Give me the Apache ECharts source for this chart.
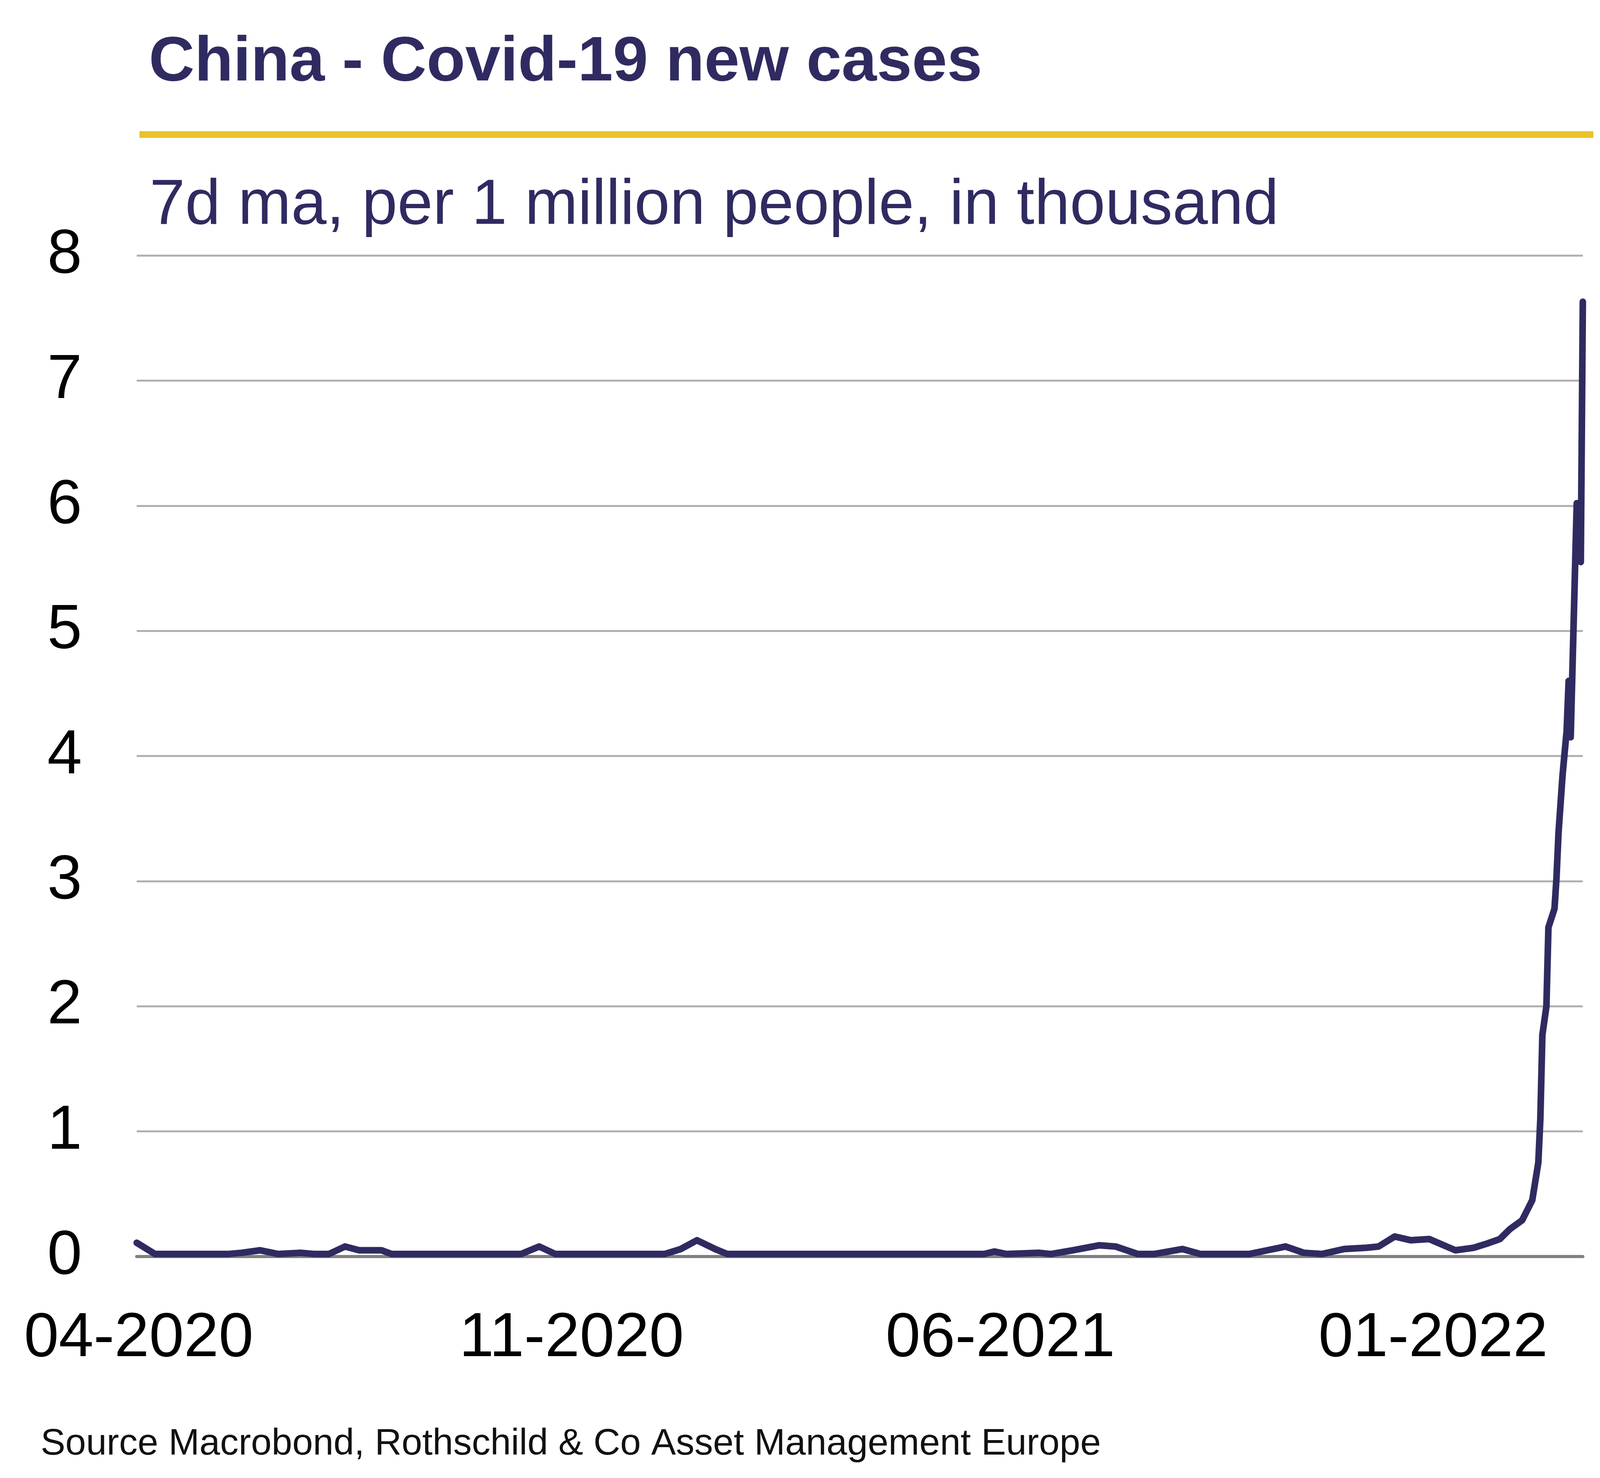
<!DOCTYPE html>
<html>
<head>
<meta charset="utf-8">
<title>China - Covid-19 new cases</title>
<script src="https://cdn.jsdelivr.net/npm/echarts@6/dist/echarts.min.js"></script>
<style>
  html, body { margin: 0; padding: 0; background: #fff; }
  #main { width: 4224px; height: 3784px; }
</style>
</head>
<body>
<div id="main"></div>
<script>
var chartDom = document.getElementById('main');
var myChart = echarts.init(chartDom);
var option;

// 7d moving average, per 1 million people, in thousand
var dates = ['2020-03-31','2020-04-04','2020-04-09','2020-05-15','2020-05-22','2020-05-31','2020-06-09','2020-06-20','2020-06-27','2020-07-04',
  '2020-07-12','2020-07-19','2020-07-30','2020-08-04','2020-10-07','2020-10-16','2020-10-24','2020-12-17','2020-12-25','2021-01-02',
  '2021-01-11','2021-01-17','2021-05-24','2021-05-29','2021-06-04','2021-06-20','2021-06-26','2021-07-07','2021-07-20','2021-07-28',
  '2021-08-08','2021-08-16','2021-08-30','2021-09-08','2021-09-17','2021-10-02','2021-10-11','2021-10-20','2021-10-29','2021-11-07',
  '2021-11-18','2021-11-29','2021-12-05','2021-12-13','2021-12-21','2021-12-30','2022-01-12','2022-01-21','2022-01-27','2022-02-03',
  '2022-02-08','2022-02-14','2022-02-19','2022-02-22','2022-02-23','2022-02-24','2022-02-26','2022-02-27','2022-03-02','2022-03-03',
  '2022-03-04','2022-03-06','2022-03-08','2022-03-09','2022-03-10','2022-03-13','2022-03-15','2022-03-16'];
var cases = [0.11,0.07,0.02,0.02,0.03,0.05,0.02,0.03,0.02,0.02,
  0.08,0.05,0.05,0.02,0.02,0.08,0.02,0.02,0.06,0.13,
  0.06,0.02,0.02,0.04,0.02,0.03,0.02,0.05,0.09,0.08,
  0.02,0.02,0.06,0.02,0.02,0.02,0.05,0.08,0.03,0.02,
  0.06,0.07,0.08,0.16,0.13,0.14,0.05,0.07,0.10,0.14,
  0.22,0.29,0.45,0.75,1.10,1.77,2.00,2.63,2.78,3.03,
  3.39,3.85,4.20,4.60,4.15,6.02,5.55,7.63];

// x labels
var labelDates = ['2020-04-01','2020-11-01','2021-06-01','2022-01-01'];
var yMin = 0, yMax = 8, yStep = 1;

var titleText = 'China - Covid-19 new cases';
var subtitleText = '7d ma, per 1 million people, in thousand';
var sourceText = 'Source Macrobond, Rothschild & Co Asset Management Europe';

// day offsets from the first date, so the x axis is a plain value axis
function dayOf(s) {
    var p = s.split('-');
    return Math.round((Date.UTC(+p[0], +p[1] - 1, +p[2]) - Date.UTC(2020, 2, 31)) / 86400000);
}
function labelOf(day) {
    var d = new Date(Date.UTC(2020, 2, 31) + day * 86400000);
    var m = d.getUTCMonth() + 1;
    return (m < 10 ? '0' + m : '' + m) + '-' + d.getUTCFullYear();
}

var navy = '#2f2b61';
var font = "'Liberation Sans', Arial, sans-serif";

option = {
    backgroundColor: '#ffffff',
    animation: false,
    grid: {
        left: 350,
        right: 172,
        top: 654,
        bottom: 567
    },
    graphic: [
        {
            type: 'text',
            left: 381,
            top: 80,
            style: {
                text: titleText,
                font: 'bold 162px ' + font,
                fill: navy
            }
        },
        {
            // yellow rule under the title
            type: 'rect',
            shape: { x: 357, y: 336, width: 3722, height: 17 },
            style: { fill: '#e9c22c' }
        },
        {
            type: 'text',
            left: 383,
            top: 447,
            style: {
                text: subtitleText,
                font: '163px ' + font,
                fill: navy
            }
        },
        {
            type: 'text',
            left: 104,
            top: 3650,
            style: {
                text: sourceText,
                font: '95px ' + font,
                fill: '#111111'
            }
        }
    ],
    xAxis: {
        type: 'value',
        min: dayOf(dates[0]),
        max: dayOf(dates[dates.length - 1]),
        axisLine: { show: true, onZero: false, lineStyle: { color: '#808080', width: 8 } },
        axisTick: { show: false },
        splitLine: { show: false },
        axisLabel: {
            customValues: labelDates.map(dayOf),
            margin: 131,
            fontSize: 160,
            fontFamily: font,
            color: '#000000',
            showMinLabel: true,
            showMaxLabel: true,
            formatter: function (v) { return labelOf(v); }
        }
    },
    yAxis: {
        type: 'value',
        min: yMin,
        max: yMax,
        interval: yStep,
        axisLine: { show: false },
        axisTick: { show: false },
        splitLine: { lineStyle: { color: '#b0b0b0', width: 5 } },
        axisLabel: {
            margin: 140,
            fontSize: 160,
            fontFamily: font,
            color: '#000000'
        }
    },
    series: [
        {
            type: 'line',
            data: dates.map(function (d, i) { return [dayOf(d), cases[i]]; }),
            showSymbol: false,
            smooth: false,
            lineStyle: { color: navy, width: 17, cap: 'round', join: 'round' },
            z: 5
        }
    ]
};

option && myChart.setOption(option);
</script>
</body>
</html>
